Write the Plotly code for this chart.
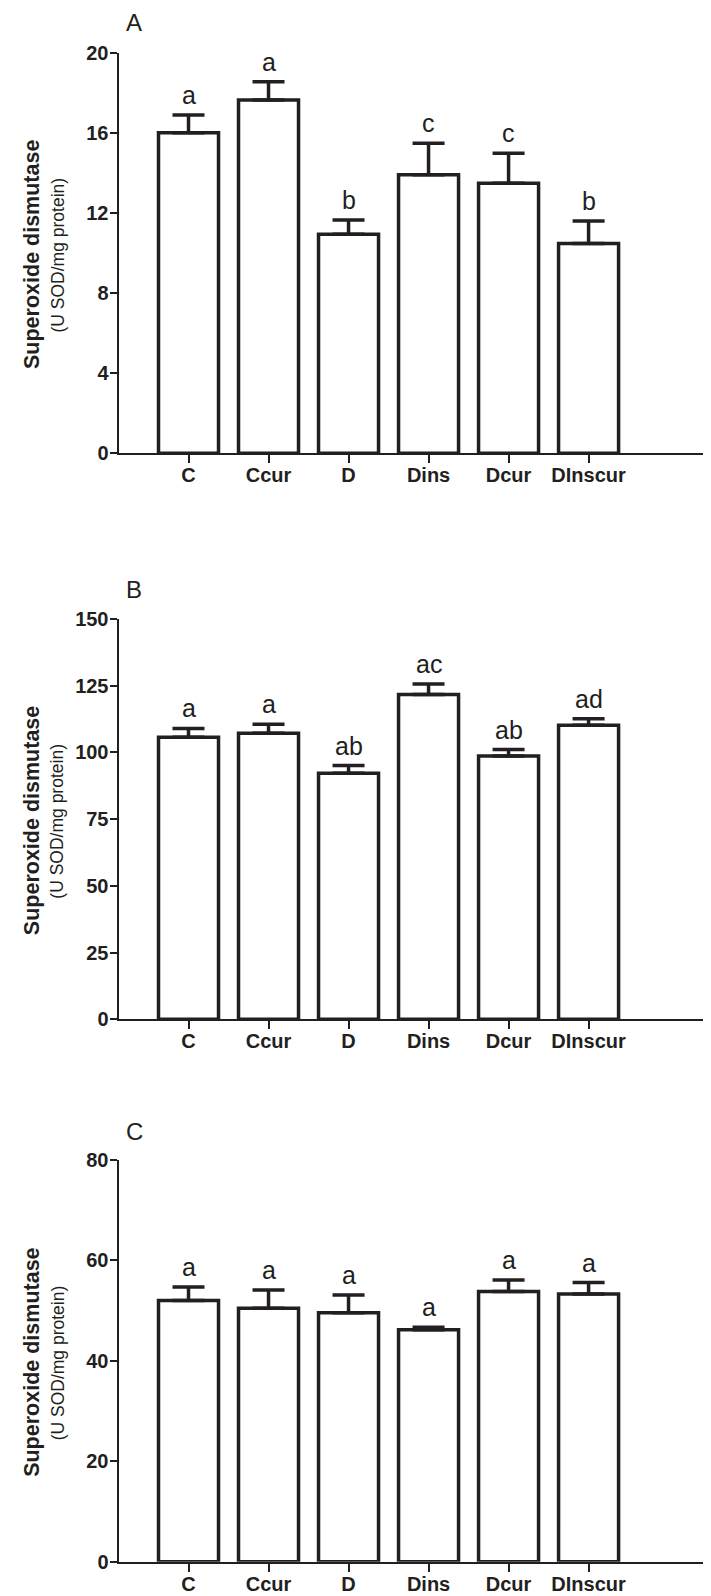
import plotly.graph_objects as go

# ---------------- data ----------------
categories = ["C", "Ccur", "D", "Dins", "Dcur", "DInscur"]

sod_a = [16.0, 17.64, 10.93, 13.91, 13.48, 10.48]
err_a = [0.89, 0.91, 0.72, 1.57, 1.50, 1.12]
sig_a = ["a", "a", "b", "c", "c", "b"]

sod_b = [105.7, 107.2, 92.2, 121.7, 98.7, 110.2]
err_b = [3.3, 3.4, 2.9, 3.9, 2.4, 2.4]
sig_b = ["a", "a", "ab", "ac", "ab", "ad"]

sod_c = [52.0, 50.5, 49.6, 46.2, 53.8, 53.3]
err_c = [2.7, 3.6, 3.5, 0.5, 2.3, 2.3]
sig_c = ["a", "a", "a", "a", "a", "a"]

panel_labels = ["A", "B", "C"]
y_max = [20, 150, 80]
y_ticks_a = [0, 4, 8, 12, 16, 20]
y_ticks_b = [0, 25, 50, 75, 100, 125, 150]
y_ticks_c = [0, 20, 40, 60, 80]
y_title = "Superoxide dismutase"
y_subtitle = "(U SOD/mg protein)"

# ---------------- layout geometry ----------------
PAGE_OFF = 8  # default body margin of the html page
W, H = 711 - PAGE_OFF, 1596 - PAGE_OFF
INK = "#231f20"
FONT = "Liberation Sans, Arial, sans-serif"


def fx(px):
    return (px - PAGE_OFF) / W


def fy(py):
    return 1 - (py - PAGE_OFF) / H


axis_x_px = 118.5
panel_px = [(52.7, 453.3), (619.0, 1019.3), (1160.0, 1561.7)]  # (top, bottom) page px
label_px = [22.5, 589.0, 1131.0]
x_range = [-0.875, 6.53]

values = [sod_a, sod_b, sod_c]
errors = [err_a, err_b, err_c]
sigs = [sig_a, sig_b, sig_c]
ticks = [y_ticks_a, y_ticks_b, y_ticks_c]

fig = go.Figure()
annotations = []
layout = dict(
    width=W, height=H,
    margin=dict(l=0, r=0, t=0, b=0, pad=0, autoexpand=False),
    paper_bgcolor="white", plot_bgcolor="white",
    showlegend=False,
)

for i in range(3):
    sfx = "" if i == 0 else str(i + 1)
    xa, ya = "x" + sfx, "y" + sfx
    top, bot = panel_px[i]
    fig.add_trace(go.Bar(
        x=categories, y=values[i], xaxis=xa, yaxis=ya,
        width=0.75,
        marker=dict(color="white", line=dict(color=INK, width=3.5)),
        error_y=dict(type="data", symmetric=False, array=errors[i],
                     arrayminus=[0] * len(categories),
                     color=INK, thickness=3.5, width=16),
        hoverinfo="skip",
    ))
    layout["xaxis" + sfx] = dict(
        domain=[fx(axis_x_px), 1.0], anchor=ya, range=x_range,
        type="category", automargin=False,
        showline=True, linecolor=INK, linewidth=2,
        ticks="outside", ticklen=8, tickwidth=2, tickcolor=INK,
        ticklabelstandoff=-5,
        tickfont=dict(family=FONT, size=20, color=INK, weight="bold"),
        showgrid=False, zeroline=False,
    )
    layout["yaxis" + sfx] = dict(
        domain=[fy(bot), fy(top)], anchor=xa,
        range=[0, y_max[i]], tickvals=ticks[i], automargin=False,
        showline=True, linecolor=INK, linewidth=2,
        ticks="outside", ticklen=7, tickwidth=2, tickcolor=INK,
        ticklabelstandoff=-3,
        tickfont=dict(family=FONT, size=20, color=INK, weight="bold"),
        showgrid=False, zeroline=False,
    )
    # significance letters
    for c, v, e, s in zip(categories, values[i], errors[i], sigs[i]):
        annotations.append(dict(
            x=c, y=v + e, xref=xa, yref=ya, text=s, showarrow=False,
            yanchor="bottom", yshift=4,
            font=dict(family=FONT, size=25, color=INK),
        ))
    # panel label
    annotations.append(dict(
        x=fx(134), y=fy(label_px[i]), xref="paper", yref="paper",
        text=panel_labels[i], showarrow=False, xanchor="center", yanchor="middle",
        font=dict(family=FONT, size=24, color=INK),
    ))
    # y-axis titles
    mid = (top + bot) / 2 + 2
    annotations.append(dict(
        x=fx(32), y=fy(mid), xref="paper", yref="paper",
        text="<b>" + y_title + "</b>", textangle=-90, showarrow=False,
        xanchor="center", yanchor="middle",
        font=dict(family=FONT, size=21.5, color=INK),
    ))
    annotations.append(dict(
        x=fx(57.5), y=fy(mid), xref="paper", yref="paper",
        text=y_subtitle, textangle=-90, showarrow=False,
        xanchor="center", yanchor="middle",
        font=dict(family=FONT, size=17.5, color=INK),
    ))

layout["annotations"] = annotations
fig.update_layout(**layout)
fig.write_html("out.html")
